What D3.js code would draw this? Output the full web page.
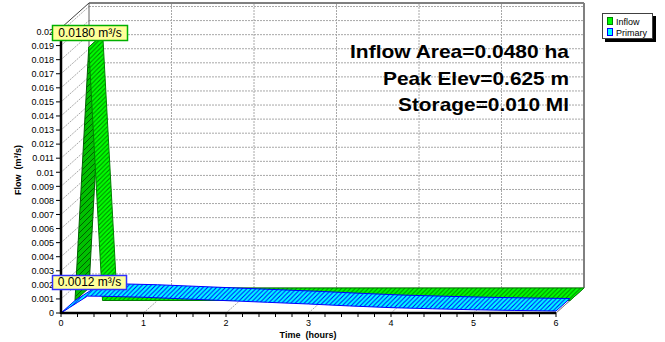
<!DOCTYPE html>
<html><head><meta charset="utf-8">
<script src="https://cdn.jsdelivr.net/npm/d3@7"></script>
<style>body{margin:0;background:#fff}svg{display:block;font-family:"Liberation Sans",Arial,sans-serif}</style>
</head><body><svg id="c" width="665" height="342"></svg>
<script>
// ---- data ----
const seriesNames = ["Inflow", "Primary"];
const inflowTime = [0, 0.1667, 0.3333, 6];
const inflowFlow = [0, 0.0180, 0, 0];
const primaryTime = [0, 0.1, 0.2, 0.32, 0.5, 1, 1.5, 2, 2.5, 3, 3.5, 4, 4.5, 5, 5.5, 6];
const primaryFlow = [0, 0.000375, 0.00075, 0.0012, 0.00119, 0.00112, 0.00100, 0.00088, 0.00076, 0.00064, 0.00050, 0.00038, 0.00030, 0.00023, 0.00018, 0.00014];
const xTicks = [0, 1, 2, 3, 4, 5, 6];
const yTicks = d3.range(0, 21).map(i => +(i * 0.001).toFixed(3));
const yTickLabels = yTicks.map(v => v === 0 ? "0" : String(v));
const peakLabels = ["0.0180 m³/s", "0.0012 m³/s"];
const infoLines = ["Inflow Area=0.0480 ha", "Peak Elev=0.625 m", "Storage=0.010 Ml"];

// ---- layout ----
const svg = d3.select("#c");
const x = d3.scaleLinear().domain([0, 6]).range([61, 556]);
const y = d3.scaleLinear().domain([0, 0.02025]).range([313, 28]);
const DX = 28, DY = -25;
const P = (t, v, z) => [x(t) + z * DX, y(v) + z * DY];
const gridCol = "#a8a8a8";

const defs = svg.append("defs");
function hatch(id, bg, fg, s) {
  const p = defs.append("pattern").attr("id", id).attr("patternUnits", "userSpaceOnUse")
    .attr("width", s).attr("height", s);
  p.append("rect").attr("width", s).attr("height", s).attr("fill", bg);
  p.append("path").attr("d", `M-1,1 L1,-1 M0,${s} L${s},0 M${s-1},${s+1} L${s+1},${s-1}`).attr("stroke", fg).attr("stroke-width", 1);
}
hatch("gL", "#00ff00", "#008000", 4.5);
hatch("gD", "#00c000", "#006000", 6);
hatch("bL", "#00ffff", "#0000ff", 4.5);
hatch("bD", "#0000ff", "#0000c0", 6);

const vmax = y.domain()[1];
// back wall
svg.append("rect").attr("x", x(0) + DX).attr("y", y(vmax) + DY)
  .attr("width", x(6) - x(0)).attr("height", y(0) - y(vmax)).attr("fill", "#fff");
const g = svg.append("g").attr("fill", "none").attr("stroke", gridCol).attr("stroke-dasharray", "2,1");
yTicks.slice(1).forEach(v => {
  const a = P(0, v, 1), b = P(6, v, 1);
  g.append("line").attr("x1", a[0]).attr("y1", a[1]).attr("x2", b[0]).attr("y2", b[1]);
  const c = P(0, v, 0);
  g.append("line").attr("x1", c[0]).attr("y1", c[1]).attr("x2", a[0]).attr("y2", a[1]);
});
xTicks.slice(1, -1).forEach(t => {
  const a = P(t, 0, 1), b = P(t, vmax, 1);
  g.append("line").attr("x1", a[0]).attr("y1", a[1]).attr("x2", b[0]).attr("y2", b[1]);
});
xTicks.slice(1).forEach(t => {
  const a = P(t, 0, 0), b = P(t, 0, 1);
  g.append("line").attr("x1", a[0]).attr("y1", a[1]).attr("x2", b[0]).attr("y2", b[1]);
});
// wall edges
const edge = (a, b, col, w) => svg.append("line").attr("x1", a[0]).attr("y1", a[1]).attr("x2", b[0]).attr("y2", b[1])
  .attr("stroke", col).attr("stroke-width", w || 1);
edge(P(0, vmax, 1), P(6, vmax, 1), "#808080", 2);
edge(P(6, vmax, 1), P(6, 0, 1), "#808080", 2);
edge(P(0, vmax, 1), P(0, 0, 1), "#606060", 1);
edge(P(0, vmax, 0), P(0, vmax, 1), "#404040", 1);
edge(P(0, 0, 1), P(6, 0, 1), "#808080", 1);
edge(P(6, 0, 0), P(6, 0, 1), "#808080", 1);

// ribbons
function ribbon(ts, vs, z0, z1, light, dark, lineL, lineD) {
  const n = ts.length;
  const segs = [];
  for (let i = 0; i < n - 1; i++) {
    const a = P(ts[i], vs[i], z0), b = P(ts[i + 1], vs[i + 1], z0);
    const ax = b[0] - a[0], ay = b[1] - a[1];
    const cr = ax * DY - ay * DX;
    const up = cr > 0;
    if (segs.length && segs[segs.length - 1].up === up) segs[segs.length - 1].idx.push(i + 1);
    else segs.push({ up, idx: [i, i + 1] });
  }
  const gr = svg.append("g");
  segs.forEach(s => {
    const front = s.idx.map(i => P(ts[i], vs[i], z0));
    const back = s.idx.map(i => P(ts[i], vs[i], z1)).reverse();
    gr.append("path").attr("d", "M" + front.concat(back).join("L") + "Z")
      .attr("fill", s.up ? dark : light).attr("stroke", s.up ? lineD : lineL)
      .attr("stroke-width", 1).attr("stroke-linejoin", "round");
  });
}
ribbon(inflowTime, inflowFlow, 0.5, 1, "url(#gL)", "url(#gD)", "#008000", "#006000");
ribbon(primaryTime, primaryFlow, 0, 0.5, "url(#bL)", "url(#bD)", "#0000ff", "#0000ff");

// axes
svg.append("line").attr("x1", x(0)).attr("y1", y(0)).attr("x2", x(6)).attr("y2", y(0)).attr("stroke", "#000").attr("stroke-width", 2.5);
svg.append("line").attr("x1", x(0)).attr("y1", y(0) + 1).attr("x2", x(0)).attr("y2", y(vmax)).attr("stroke", "#000").attr("stroke-width", 2.5);
const ax = svg.append("g").attr("font-size", 9).attr("fill", "#000");
yTicks.forEach((v, i) => {
  ax.append("line").attr("x1", 56).attr("x2", 61).attr("y1", y(v)).attr("y2", y(v)).attr("stroke", "#000");
  ax.append("text").attr("x", 54).attr("y", y(v) + 3.3).attr("text-anchor", "end").text(yTickLabels[i]);
});
d3.range(0, 31).forEach(i => {
  const t = i * 0.2;
  ax.append("line").attr("x1", x(t)).attr("x2", x(t)).attr("y1", 313).attr("y2", 317).attr("stroke", "#000");
});
xTicks.forEach(t => {
  ax.append("text").attr("x", x(t)).attr("y", 326).attr("text-anchor", "middle").text(t);
});
svg.append("text").attr("x", 308).attr("y", 338).attr("text-anchor", "middle").attr("font-size", 9)
  .attr("font-weight", "bold").style("white-space", "pre").text("Time  (hours)");
svg.append("text").attr("transform", "translate(21,170) rotate(-90)").attr("text-anchor", "middle")
  .attr("font-size", 9).attr("font-weight", "bold").style("white-space", "pre").text("Flow  (m³/s)");

// info text
const infoW = [219, 186, 171];
infoLines.forEach((s, i) => {
  svg.append("text").attr("x", 569).attr("y", [58, 85, 111][i]).attr("text-anchor", "end")
    .attr("font-size", 19).attr("font-weight", "bold")
    .attr("textLength", infoW[i]).attr("lengthAdjust", "spacingAndGlyphs").text(s);
});

// peak labels
function peakBox(txt, bx, by, w, h, stroke) {
  svg.append("rect").attr("x", bx).attr("y", by).attr("width", w).attr("height", h)
    .attr("fill", "#ffff99").attr("stroke", stroke).attr("stroke-width", 1.5);
  svg.append("text").attr("x", bx + w / 2).attr("y", by + h - 3.3).attr("text-anchor", "middle")
    .attr("font-size", 12).text(txt);
}
peakBox(peakLabels[0], 52.5, 25.5, 75, 15, "#00b000");
peakBox(peakLabels[1], 52.5, 275.5, 74, 14, "#3030ff");

// legend
const lg = svg.append("g");
lg.append("rect").attr("x", 605).attr("y", 16).attr("width", 51).attr("height", 26).attr("fill", "#000");
lg.append("rect").attr("x", 602.5).attr("y", 13.5).attr("width", 50).attr("height", 25).attr("fill", "#fff").attr("stroke", "#404040");
[["#00ff00", "#008000"], ["#00ffff", "#0000ff"]].forEach((c, i) => {
  lg.append("rect").attr("x", 607.5).attr("y", 17.5 + i * 11).attr("width", 5).attr("height", 7)
    .attr("fill", c[0]).attr("stroke", c[1]);
  lg.append("text").attr("x", 616).attr("y", 24.5 + i * 11).attr("font-size", 9).text(seriesNames[i]);
});
</script></body></html>
